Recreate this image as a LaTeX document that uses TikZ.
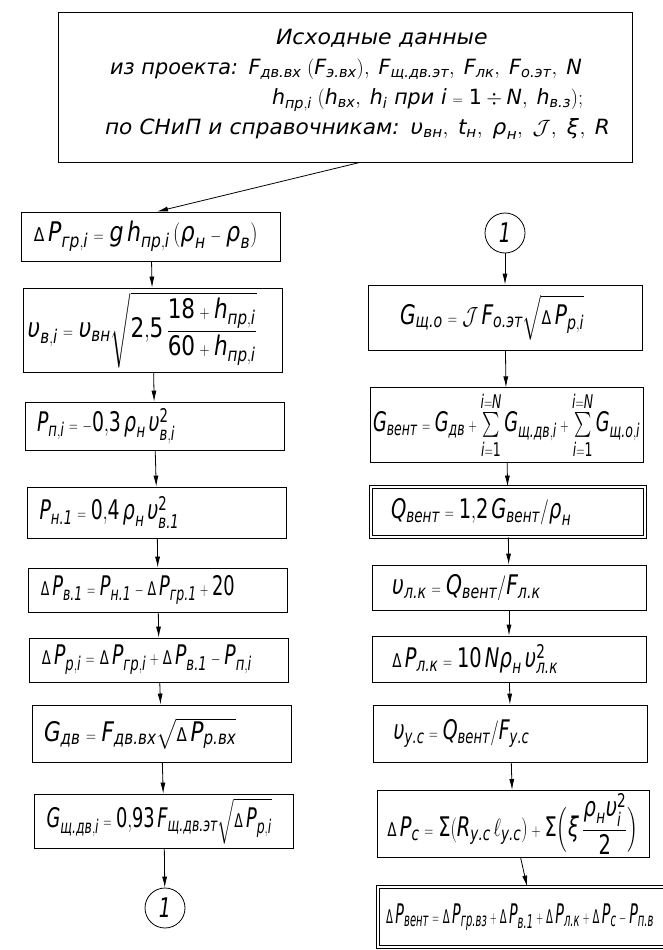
\documentclass[tikz,border=0pt]{standalone}
\usepackage{amsmath}
\usepackage{graphicx}
\usepackage{mathspec}
\setmainfont{DejaVu Sans}
\setmathsfont(Digits,Latin,Greek){DejaVu Sans}
\usetikzlibrary{arrows.meta}

\newcommand{\ru}[1]{\text{\itshape #1}}
\newcommand{\eq}{\mathrel{\scriptstyle=}}
\newcommand{\pl}{\mathbin{\scriptstyle+}}
\newcommand{\mn}{\mathbin{\scriptstyle-}}
\newcommand{\dd}{{\scriptstyle\Delta}\,}
\newcommand{\nar}[2][0.7]{\scalebox{#1}[1]{#2}}
\newcommand{\formfont}{\fontsize{27}{32}\selectfont\itshape}

\tikzset{
  lbox/.style={draw, line width=0.8pt, text width=235pt, inner xsep=12pt, align=left, font=\formfont},
  rbox/.style={draw, line width=0.8pt, text width=234pt, inner xsep=20pt, align=left, font=\formfont},
  dbl/.style={double, double distance=2.5pt},
  ring/.style={draw, circle, line width=0.8pt, minimum size=40pt, inner sep=0pt, font=\formfont},
}

\begin{document}
\begin{tikzpicture}[x=1pt, y=-1pt, >={Latex[length=11pt,width=5pt]}, line width=0.8pt]
\useasboundingbox (0,0) rectangle (663,950);

% source data
\node[draw, text width=480pt, inner xsep=47pt, minimum height=150pt, align=left,
  font=\fontsize{21}{30}\selectfont\itshape] (src) at (345,87)
  {\hspace*{171pt}\nar[1.05]{Исходные данные}\\
   \hspace*{5pt}\nar[0.99]{из проекта: $F_{\ru{дв.вх}}\;(F_{\ru{э.вх}}),\;F_{\ru{щ.дв.эт}},\;F_{\ru{лк}},\;F_{\ru{о.эт}},\;N$}\\
   \hspace*{167pt}\nar[0.98]{$h_{\ru{пр},i}\;(h_{\ru{вх}},\;h_i$ при $i\eq1\div N,\;h_{\ru{в.з}});$}\\
   \nar[1.03]{по СНиП и справочникам: $\upsilon_{\ru{вн}},\;t_{\ru{н}},\;\rho_{\ru{н}},\;\mathcal{J},\;\xi,\;R$}\\[-20pt]\mbox{}};

% left column
\node[lbox, minimum height=49pt] (L1) at (151,236.5) {\nar[0.82]{$\dd P_{\ru{гр},i} \eq g\,h_{\ru{пр},i}\,(\rho_{\ru{н}} \mn \rho_{\ru{в}})$}};
\node[lbox, minimum height=84pt, inner xsep=4pt, text width=251pt] (L2) at (153,330) {\nar[0.8]{$\upsilon_{\ru{в},i} \eq \upsilon_{\ru{вн}}\sqrt{2{,}5\,\dfrac{18\pl h_{\ru{пр},i}}{60\pl h_{\ru{пр},i}}}$}};
\node[lbox, minimum height=48pt] (L3) at (154.5,426) {\nar{$P_{\ru{п},i} \eq \mn 0{,}3\,\rho_{\ru{н}}\,\upsilon^2_{\ru{в},i}$}};
\node[lbox, minimum height=51pt] (L4) at (157,512.5) {\nar{$P_{\ru{н.1}} \eq 0{,}4\,\rho_{\ru{н}}\,\upsilon^2_{\ru{в.1}}$}};
\node[lbox, minimum height=44pt] (L5) at (158,590) {\nar[0.66]{$\dd P_{\ru{в.1}} \eq P_{\ru{н.1}} \mn \dd P_{\ru{гр.1}} \pl 20$}};
\node[lbox, minimum height=44pt] (L6) at (159,660) {\nar{$\dd P_{\ru{р},i} \eq \dd P_{\ru{гр},i} \pl \dd P_{\ru{в.1}} \mn P_{\ru{п},i}$}};
\node[lbox, minimum height=57pt] (L7) at (161.5,733.5) {\nar[0.8]{$G_{\ru{дв}} \eq F_{\ru{дв.вх}}\sqrt{\dd P_{\ru{р.вх}}}$}};
\node[lbox, minimum height=54pt] (L8) at (164,821) {\nar[0.66]{$G_{\ru{щ.дв},i} \eq 0{,}93\,F_{\ru{щ.дв.эт}}\sqrt{\dd P_{\ru{р},i}}$}};
\node[ring] (cL) at (165,908) {\nar{1}};

% right column
\node[ring] (cR) at (505,233) {\nar{1}};
\node[rbox, minimum height=65pt, inner xsep=32pt, text width=210pt] (R1) at (505,317.5) {\nar[0.75]{$G_{\ru{щ.о}} \eq \mathcal{J}\,F_{\ru{о.эт}}\sqrt{\dd P_{\ru{р},i}}$}};
\node[rbox, minimum height=74pt, inner xsep=3pt, text width=267pt] (R2) at (506.5,425) {\nar[0.66]{$G_{\ru{вент}} \eq G_{\ru{дв}} \pl \sum\limits_{i=1}^{i=N} G_{\ru{щ.дв},i} \pl \sum\limits_{i=1}^{i=N} G_{\ru{щ.о},i}$}};
\node[rbox, dbl, minimum height=50pt] (R3) at (508,512) {\nar[0.72]{$Q_{\ru{вент}} \eq 1{,}2\,G_{\ru{вент}}/\rho_{\ru{н}}$}};
\node[rbox, minimum height=45pt] (R4) at (509,587.5) {\nar[0.75]{$\upsilon_{\ru{л.к}} \eq Q_{\ru{вент}}/F_{\ru{л.к}}$}};
\node[rbox, minimum height=46pt] (R5) at (509,659) {\nar[0.72]{$\dd P_{\ru{л.к}} \eq 10\,N\rho_{\ru{н}}\,\upsilon^2_{\ru{л.к}}$}};
\node[rbox, minimum height=57pt] (R6) at (510.5,733.5) {\nar{$\upsilon_{\ru{у.с}} \eq Q_{\ru{вент}}/F_{\ru{у.с}}$}};
\node[rbox, minimum height=62pt, inner xsep=10pt, text width=252pt] (R7) at (513,824) {\nar[0.72]{$\dd P_{\ru{с}} \eq \Sigma(R_{\ru{у.с}}\,\ell_{\ru{у.с}}) \pl \Sigma\Bigl(\xi\,\dfrac{\rho_{\ru{н}}\upsilon_i^2}{2}\Bigr)$}};
\node[rbox, dbl, minimum height=60pt, inner xsep=8pt, text width=296pt] (R8) at (534,917) {\nar[0.53]{$\dd P_{\ru{вент}} \eq \dd P_{\ru{гр.вз}} \pl \dd P_{\ru{в.1}} \pl \dd P_{\ru{л.к}} \pl \dd P_{\ru{с}} \mn P_{\ru{п.в}}$}};

% connectors
\draw[->] ([xshift=15pt]src.south) -- ([xshift=6pt]L1.north);
\foreach \a/\b in {L1/L2,L2/L3,L3/L4,L4/L5,L5/L6,L6/L7,L7/L8,L8/cL}
  \draw[->] (\a) -- (\b);
\foreach \a/\b in {cR/R1,R1/R2,R2/R3,R3/R4,R4/R5,R5/R6,R6/R7,R7/R8}
  \draw[->] (\a) -- (\b);
\end{tikzpicture}
\end{document}
